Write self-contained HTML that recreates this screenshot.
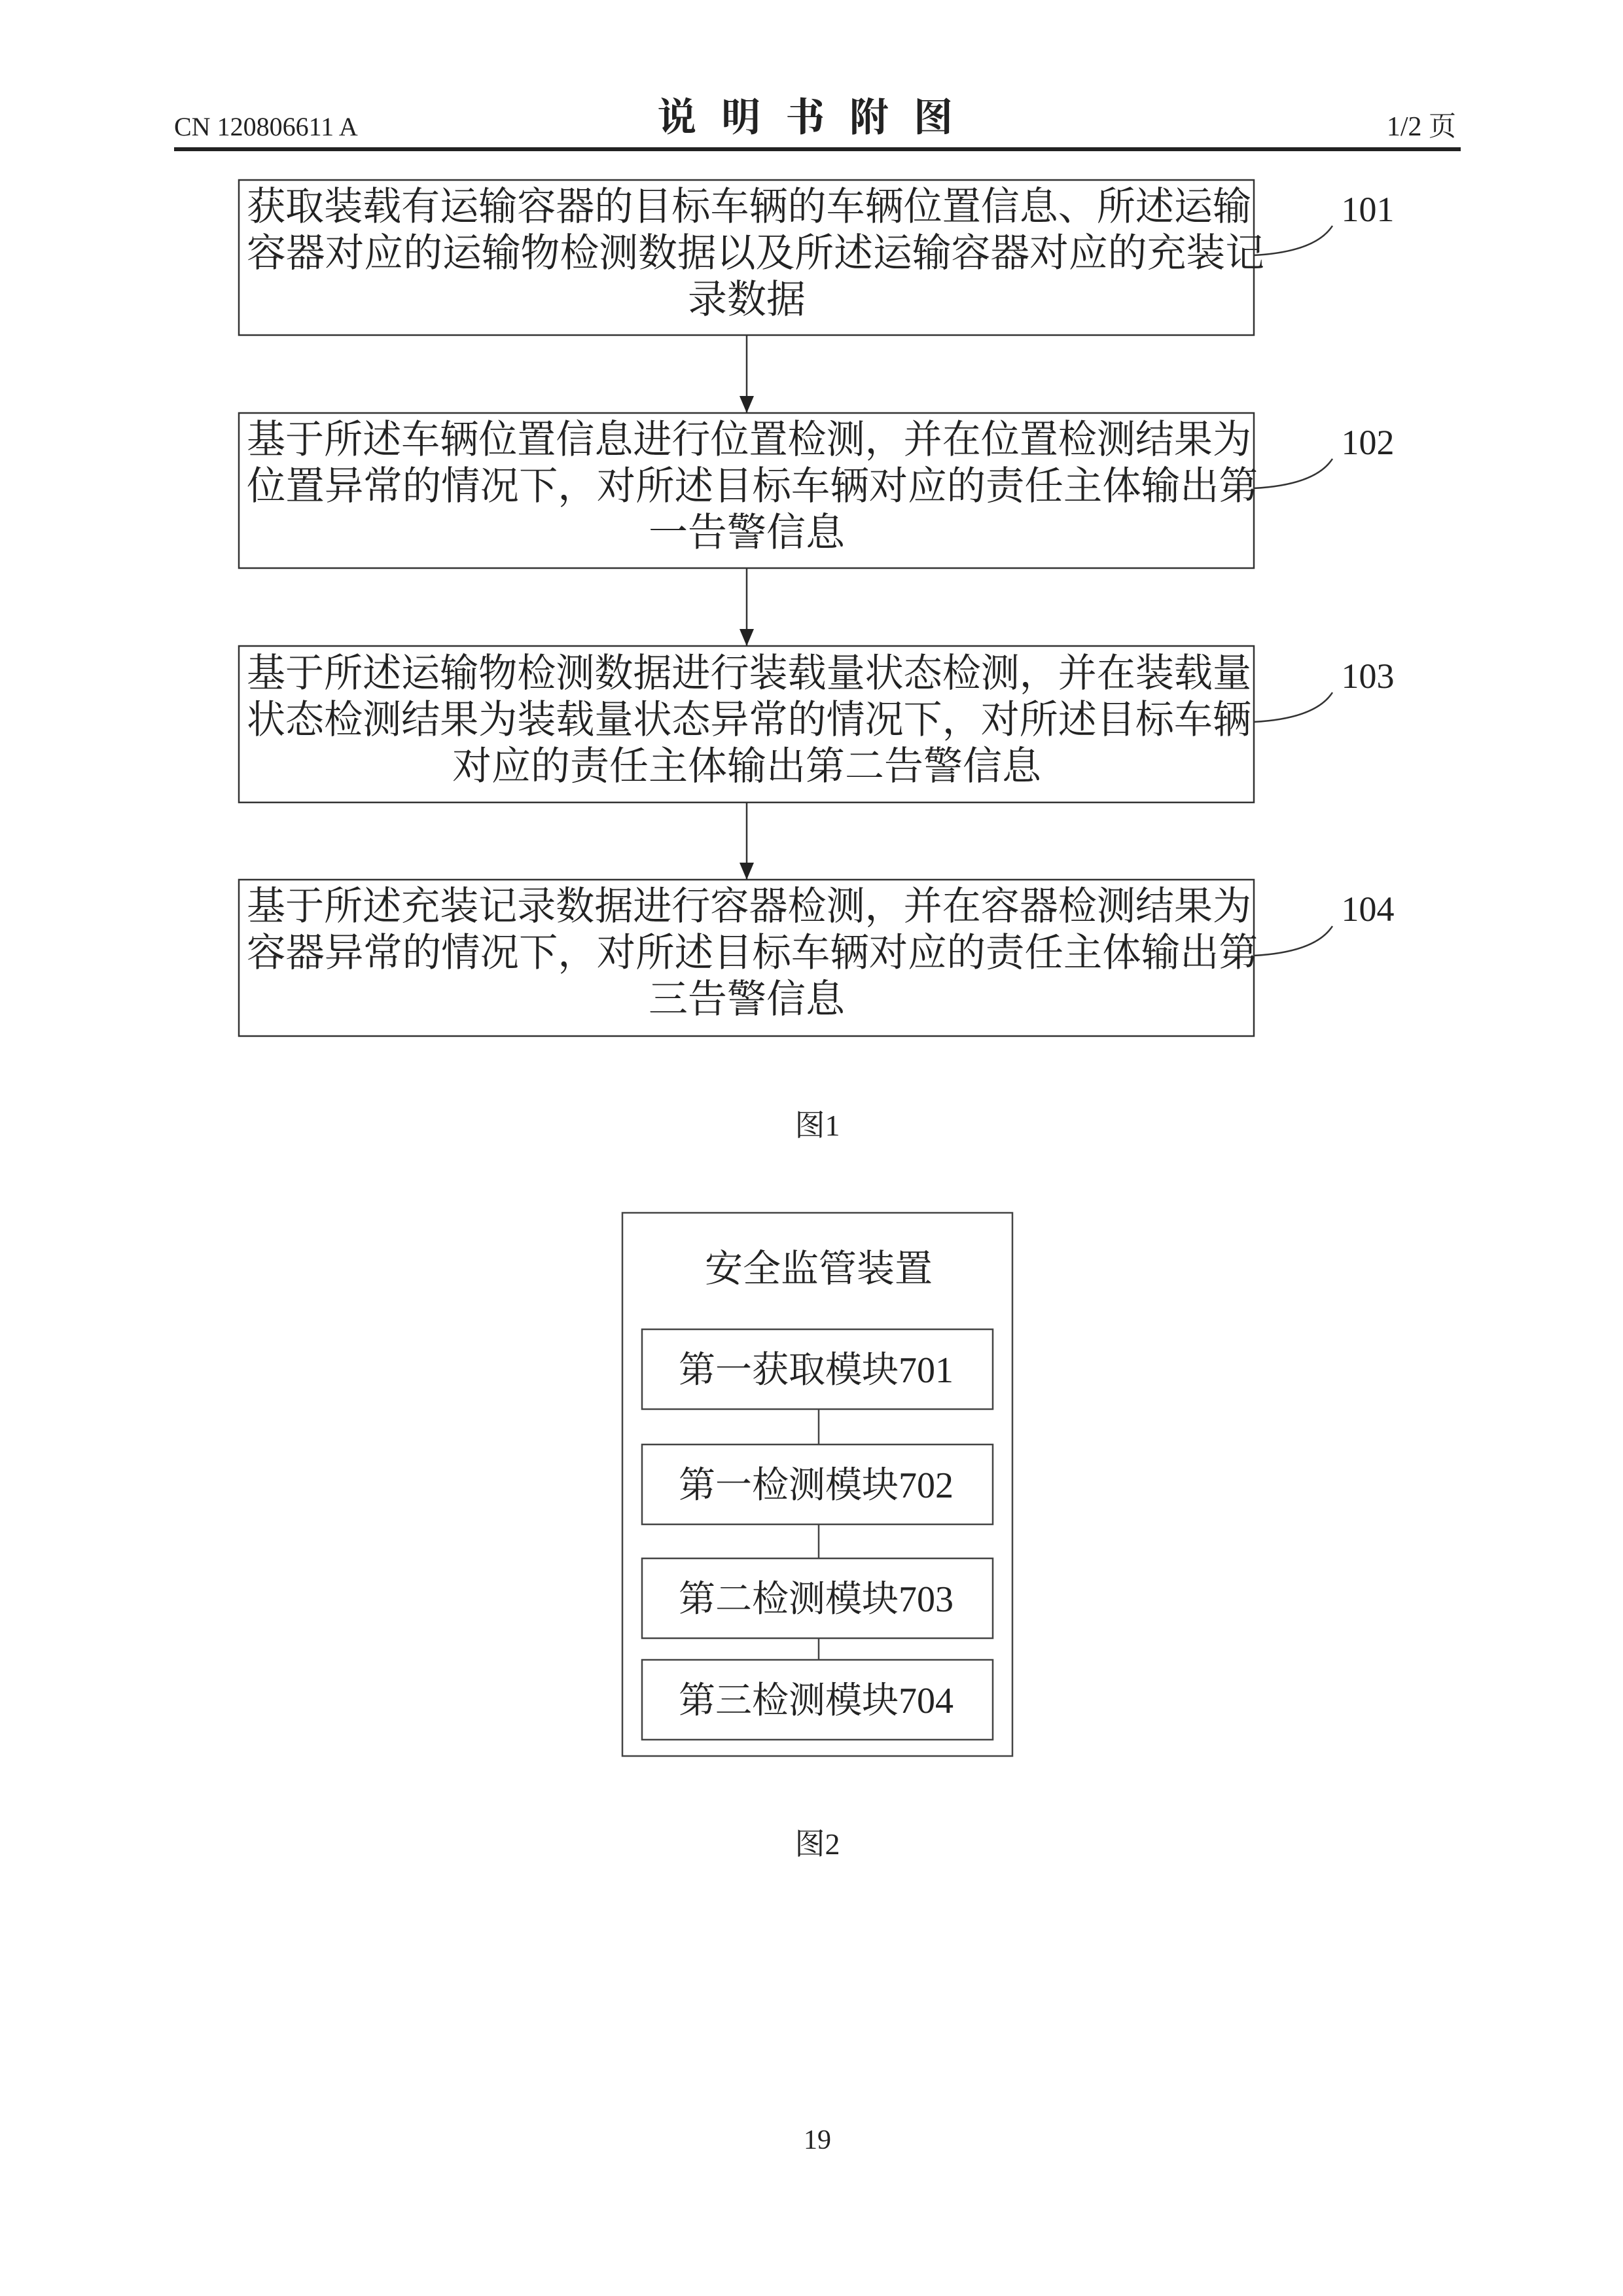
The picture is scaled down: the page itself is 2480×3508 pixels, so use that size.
<!DOCTYPE html>
<html><head><meta charset="utf-8"><style>
html,body{margin:0;padding:0;background:#fff;}
svg{display:block;}
text{font-family:"Liberation Serif","Noto Serif CJK SC",serif;fill:#222;}
</style></head><body>
<svg width="2480" height="3508" viewBox="0 0 2480 3508" xmlns="http://www.w3.org/2000/svg">
<defs><marker id="ah" markerWidth="10" markerHeight="12" refX="5" refY="12" orient="auto" markerUnits="userSpaceOnUse" viewBox="0 0 10 12"><path d="M0,0 L10,0 L5,12 z" fill="#222"/></marker>
<marker id="a" markerWidth="22" markerHeight="26" refX="11" refY="26" markerUnits="userSpaceOnUse"><path d="M0,0 L22,0 L11,26 z" fill="#222"/></marker></defs>
<!-- header -->
<text x="266" y="207" font-family="Liberation Mono, monospace" font-size="40">CN 120806611 A</text>
<text x="1249" y="200" font-size="60" text-anchor="middle" letter-spacing="38" font-weight="bold">说明书附图</text>
<text x="2225" y="207" font-size="42" text-anchor="end">1/2 页</text>
<rect x="266" y="225" width="1966" height="6" fill="#222"/>
<g fill="none" stroke="#333" stroke-width="2.5">
<rect x="365" y="275" width="1551" height="237"/>
<rect x="365" y="631" width="1551" height="237"/>
<rect x="365" y="987" width="1551" height="239"/>
<rect x="365" y="1344" width="1551" height="239"/>
<line x1="1141" y1="512" x2="1141" y2="631" marker-end="url(#a)"/>
<line x1="1141" y1="868" x2="1141" y2="987" marker-end="url(#a)"/>
<line x1="1141" y1="1226" x2="1141" y2="1344" marker-end="url(#a)"/>
<path d="M1916,390 Q2010,385 2036,345"/>
<path d="M1916,746 Q2010,741 2036,701"/>
<path d="M1916,1103 Q2010,1098 2036,1058"/>
<path d="M1916,1460 Q2010,1455 2036,1415"/>
</g>
<g font-size="60">
<text x="2090" y="338" text-anchor="middle" font-size="54">101</text>
<text x="2090" y="694" text-anchor="middle" font-size="54">102</text>
<text x="2090" y="1051" text-anchor="middle" font-size="54">103</text>
<text x="2090" y="1407" text-anchor="middle" font-size="54">104</text>
<text x="377" y="336" textLength="1535" lengthAdjust="spacingAndGlyphs">获取装载有运输容器的目标车辆的车辆位置信息、所述运输</text>
<text x="377" y="407" textLength="1555" lengthAdjust="spacingAndGlyphs">容器对应的运输物检测数据以及所述运输容器对应的充装记</text>
<text x="1141" y="478" text-anchor="middle">录数据</text>
<text x="377" y="692" textLength="1535" lengthAdjust="spacingAndGlyphs">基于所述车辆位置信息进行位置检测，并在位置检测结果为</text>
<text x="377" y="763" textLength="1545" lengthAdjust="spacingAndGlyphs">位置异常的情况下，对所述目标车辆对应的责任主体输出第</text>
<text x="1141" y="834" text-anchor="middle">一告警信息</text>
<text x="377" y="1049" textLength="1535" lengthAdjust="spacingAndGlyphs">基于所述运输物检测数据进行装载量状态检测，并在装载量</text>
<text x="377" y="1120" textLength="1535" lengthAdjust="spacingAndGlyphs">状态检测结果为装载量状态异常的情况下，对所述目标车辆</text>
<text x="1141" y="1191" text-anchor="middle">对应的责任主体输出第二告警信息</text>
<text x="377" y="1405" textLength="1535" lengthAdjust="spacingAndGlyphs">基于所述充装记录数据进行容器检测，并在容器检测结果为</text>
<text x="377" y="1476" textLength="1545" lengthAdjust="spacingAndGlyphs">容器异常的情况下，对所述目标车辆对应的责任主体输出第</text>
<text x="1141" y="1547" text-anchor="middle">三告警信息</text>
</g>
<text x="1249" y="1735" font-size="46" text-anchor="middle">图1</text>
<!-- fig 2 -->
<g fill="none" stroke="#444" stroke-width="2.5">
<rect x="951" y="1853" width="596" height="830"/>
<rect x="981" y="2031" width="536" height="122"/>
<rect x="981" y="2207" width="536" height="122"/>
<rect x="981" y="2381" width="536" height="122"/>
<rect x="981" y="2536" width="536" height="122"/>
<line x1="1251" y1="2153" x2="1251" y2="2207"/>
<line x1="1251" y1="2329" x2="1251" y2="2381"/>
<line x1="1251" y1="2503" x2="1251" y2="2536"/>
</g>
<g font-size="56" text-anchor="middle">
<text x="1251" y="1958" font-size="58">安全监管装置</text>
<text x="1247" y="2112">第一获取模块701</text>
<text x="1247" y="2288">第一检测模块702</text>
<text x="1247" y="2462">第二检测模块703</text>
<text x="1247" y="2617">第三检测模块704</text>
</g>
<text x="1249" y="2833" font-size="46" text-anchor="middle">图2</text>
<text x="1249" y="3283" font-size="42" text-anchor="middle">19</text>
</svg>
</body></html>
